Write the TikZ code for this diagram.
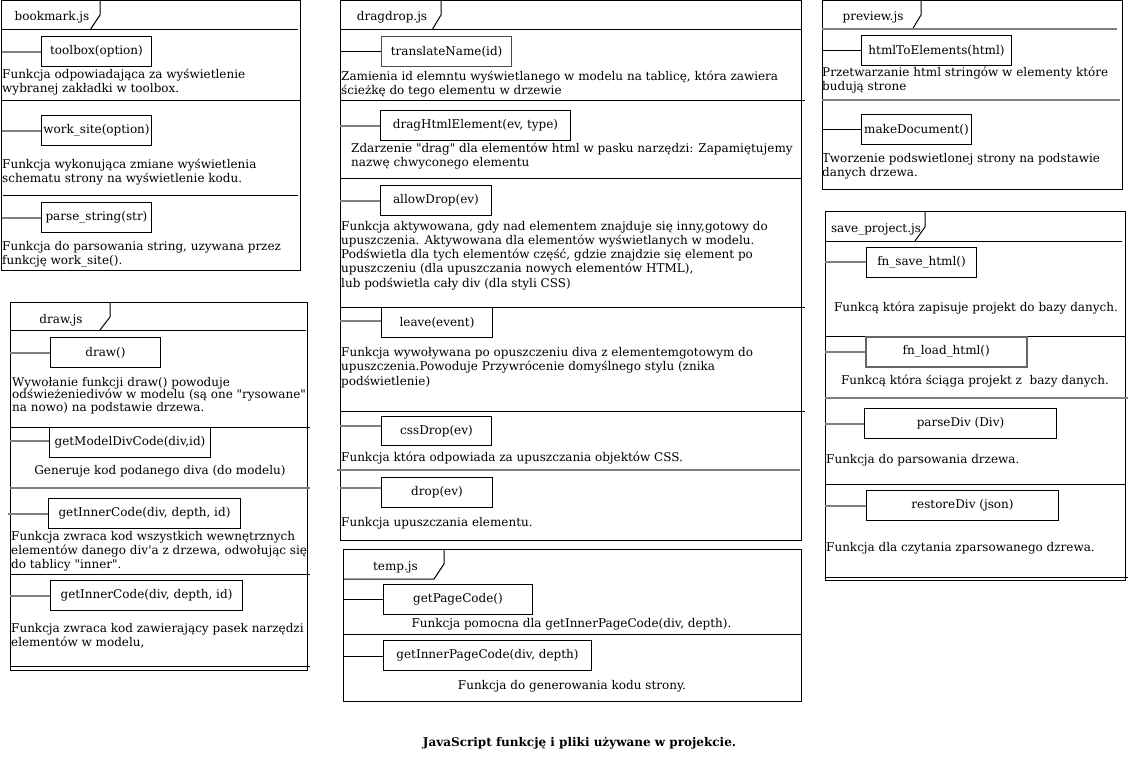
\documentclass[tikz,border=0pt]{standalone}
\usepackage{fontspec}
\setmainfont{DejaVu Serif}[Ligatures=TeXOff]
\newcommand\dfont{\fontsize{12}{13.5}\selectfont}
\begin{document}
\begin{tikzpicture}[x=1pt,y=-1pt,
  pkg/.style={draw=black, line width=1pt},
  sepl/.style={draw=black, line width=1pt},
  gsep/.style={draw=black!50, line width=2pt},
  fn/.style={draw=black, line width=1pt, anchor=north west, inner sep=0pt, minimum height=30pt, font=\dfont, align=center},
  conn/.style={draw=black!50, line width=2pt},
  bconn/.style={draw=black, line width=1pt},
  desc/.style={anchor=base west, align=left, inner sep=0pt, font=\dfont},
  cdesc/.style={anchor=base, align=center, inner sep=0pt, font=\dfont},
  tabl/.style={anchor=base, inner sep=0pt, font=\dfont},
  capt/.style={anchor=base, inner sep=0pt, font=\dfont\bfseries}]
\useasboundingbox[fill=white] (0,0) rectangle (1128,757);

% ---------------- bookmark.js
\draw[pkg] (1,1) rectangle (300,270);
\draw[pkg] (100,1) -- (100,15) -- (90,30);
\draw[sepl] (1,30) -- (298,30);
\node[tabl] (bmt) at (52,21) {bookmark.js};
\node[fn, minimum width=110pt] (tb) at (41,36) {toolbox(option)};
\coordinate (tbc) at (2,52);
\draw[conn] (tbc) -- (tb.west |- tbc);
\node[desc, font=\fontsize{12}{14}\selectfont] (tbd) at (2,93) {Funkcja odpowiadająca za wyświetlenie\\wybranej zakładki w toolbox.};
\draw[sepl] (1,101) -- (300,101);
\node[fn, minimum width=110pt] (ws) at (41,115) {work\_site(option)};
\coordinate (wsc) at (2,131);
\draw[conn] (wsc) -- (ws.west |- wsc);
\node[desc] (wsd) at (2,182.5) {Funkcja wykonująca zmiane wyświetlenia\\schematu strony na wyświetlenie kodu.};
\draw[sepl] (3,196) -- (298,196);
\node[fn, minimum width=110pt] (ps) at (41,202) {parse\_string(str)};
\coordinate (psc) at (2,218);
\draw[conn] (psc) -- (ps.west |- psc);
\node[desc] (psd) at (2,264.5) {Funkcja do parsowania string, uzywana przez\\funkcję work\_site().};

% ---------------- draw.js
\draw[pkg] (10,302) rectangle (307,670);
\draw[pkg] (110,302) -- (110,317) -- (100,330);
\draw[sepl] (10,330) -- (306,330);
\node[tabl] (dwt) at (61,323) {draw.js};
\node[fn, minimum width=110pt] (dw) at (50,337) {draw()};
\coordinate (dwc) at (10,353);
\draw[conn] (dwc) -- (dw.west |- dwc);
\node[desc, font=\fontsize{12}{12.7}\selectfont] (dwd) at (12,411.4) {Wywołanie funkcji draw() powoduje\\odświeżeniedivów w modelu (są one "rysowane"\\na nowo) na podstawie drzewa.};
\draw[sepl] (10,427) -- (310,427);
\node[fn, minimum width=161pt] (gm) at (49,427) {getModelDivCode(div,id)};
\coordinate (gmc) at (10,441);
\draw[conn] (gmc) -- (gm.west |- gmc);
\node[cdesc] (gmd) at (160,474) {Generuje kod podanego diva (do modelu)};
\draw[gsep] (10,488) -- (310,488);
\node[fn, minimum width=192pt] (gi) at (48,498) {getInnerCode(div, depth, id)};
\coordinate (gic) at (8,514);
\draw[conn] (gic) -- (gi.west |- gic);
\node[desc, font=\fontsize{12}{14}\selectfont] (gid) at (11,568) {Funkcja zwraca kod wszystkich wewnętrznych\\elementów danego div'a z drzewa, odwołując się\\do tablicy "inner".};
\draw[sepl] (10,574) -- (310,574);
\node[fn, minimum width=192pt] (gj) at (50,580) {getInnerCode(div, depth, id)};
\coordinate (gjc) at (10,596);
\draw[conn] (gjc) -- (gj.west |- gjc);
\node[desc, font=\fontsize{12}{14}\selectfont] (gjd) at (11,646) {Funkcja zwraca kod zawierający pasek narzędzi\\elementów w modelu,};
\draw[sepl] (10,666) -- (310,666);

% ---------------- dragdrop.js
\draw[pkg] (340,1) rectangle (801,540);
\draw[pkg] (441,1) -- (441,15) -- (432,30);
\draw[sepl] (340,30) -- (801,30);
\node[tabl] (ddt) at (392,21) {dragdrop.js};
\node[fn, minimum width=130pt, draw=black!70, line width=1.3pt] (tn) at (381,36) {translateName(id)};
\coordinate (tnc) at (340,52);
\draw[bconn] (tnc) -- (tn.west |- tnc);
\node[desc, font=\fontsize{12}{14}\selectfont] (tnd) at (341,95) {Zamienia id elemntu wyświetlanego w modelu na tablicę, która zawiera\\ścieżkę do tego elementu w drzewie};
\draw[sepl] (340,101) -- (805,101);
\node[fn, minimum width=190pt] (dh) at (380,110) {dragHtmlElement(ev, type)};
\coordinate (dhc) at (340,126);
\draw[conn] (dhc) -- (dh.west |- dhc);
\node[desc, font=\fontsize{12}{14}\selectfont] (dhd) at (351,167) {Zdarzenie "drag" dla elementów html w pasku narzędzi: Zapamiętujemy\\nazwę chwyconego elementu};
\draw[sepl] (340,179) -- (801,179);
\node[fn, minimum width=111pt] (ad) at (380,185) {allowDrop(ev)};
\coordinate (adc) at (340,201);
\draw[conn] (adc) -- (ad.west |- adc);
\node[desc, font=\fontsize{12}{14.25}\selectfont] (add) at (341,287) {Funkcja aktywowana, gdy nad elementem znajduje się inny,gotowy do\\upuszczenia. Aktywowana dla elementów wyświetlanych w modelu.\\Podświetla dla tych elementów część, gdzie znajdzie się element po\\upuszczeniu (dla upuszczania nowych elementów HTML),\\lub podświetla cały div (dla styli CSS)};
\draw[sepl] (340,307) -- (805,307);
\node[fn, minimum width=111pt] (lv) at (381,307) {leave(event)};
\coordinate (lvc) at (340,321);
\draw[conn] (lvc) -- (lv.west |- lvc);
\node[desc, font=\fontsize{12}{14.5}\selectfont] (lvd) at (341,385) {Funkcja wywoływana po opuszczeniu diva z elementemgotowym do\\upuszczenia.Powoduje Przywrócenie domyślnego stylu (znika\\podświetlenie)};
\draw[sepl] (340,411) -- (805,411);
\node[fn, minimum width=110pt, minimum height=29pt] (cd) at (381,416) {cssDrop(ev)};
\coordinate (cdc) at (340,426);
\draw[conn] (cdc) -- (cd.west |- cdc);
\node[desc] (cdd) at (341,461) {Funkcja która odpowiada za upuszczania objektów CSS.};
\draw[gsep] (337,470) -- (800,470);
\node[fn, minimum width=111pt] (dr) at (381,477) {drop(ev)};
\coordinate (drc) at (340,488);
\draw[conn] (drc) -- (dr.west |- drc);
\node[desc] (drd) at (341,526) {Funkcja upuszczania elementu.};

% ---------------- temp.js
\draw[pkg] (343,549) rectangle (801,701);
\draw[pkg] (444,549) -- (444,564) -- (434,579) -- (343,579);
\node[tabl] (tpt) at (395.5,570) {temp.js};
\node[fn, minimum width=149pt] (gp) at (383,584) {getPageCode()};
\coordinate (gpc) at (343,599);
\draw[bconn] (gpc) -- (gp.west |- gpc);
\node[cdesc] (gpd) at (571.5,627) {Funkcja pomocna dla getInnerPageCode(div, depth).};
\draw[sepl] (343,634) -- (801,634);
\node[fn, minimum width=208pt] (gq) at (383,640) {getInnerPageCode(div, depth)};
\coordinate (gqc) at (343,656);
\draw[bconn] (gqc) -- (gq.west |- gqc);
\node[cdesc] (gqd) at (572,689) {Funkcja do generowania kodu strony.};

\node[capt] (cap) at (579.5,746) {JavaScript funkcję i pliki używane w projekcie.};

% ---------------- preview.js
\draw[pkg] (822,1) rectangle (1122,190);
\draw[pkg] (921,1) -- (921,15) -- (912,30);
\draw[gsep] (822,29) -- (1117,29);
\node[tabl] (pvt) at (873,21) {preview.js};
\node[fn, minimum width=150pt] (he) at (861,35) {htmlToElements(html)};
\coordinate (hec) at (822,51);
\draw[bconn] (hec) -- (he.west |- hec);
\node[desc, font=\fontsize{12}{14}\selectfont] (hed) at (822,91) {Przetwarzanie html stringów w elementy które\\budują strone};
\draw[gsep] (822,100) -- (1120,100);
\node[fn, minimum width=110pt] (md) at (861,114) {makeDocument()};
\coordinate (mdc) at (822,130);
\draw[bconn] (mdc) -- (md.west |- mdc);
\node[desc, font=\fontsize{12}{14}\selectfont] (mdd) at (822,177) {Tworzenie podswietlonej strony na podstawie\\danych drzewa.};

% ---------------- save_project.js
\draw[pkg] (825,212) rectangle (1125,580);
\draw[pkg] (925,212) -- (925,227) -- (915,241);
\draw[sepl] (825,241) -- (1122,241);
\node[tabl] (spt) at (876,233) {save\_project.js};
\node[fn, minimum width=110pt] (fs) at (866,247) {fn\_save\_html()};
\coordinate (fsc) at (825,262);
\draw[conn] (fsc) -- (fs.west |- fsc);
\node[cdesc] (fsd) at (976,311) {Funkcą która zapisuje projekt do bazy danych.};
\draw[sepl] (825,336) -- (1125,336);
\node[fn, minimum width=161pt, draw=black!60, line width=1.5pt] (fl) at (865,336) {fn\_load\_html()};
\coordinate (flc) at (825,352);
\draw[conn] (flc) -- (fl.west |- flc);
\node[cdesc] (fld) at (975,384) {Funkcą która ściąga projekt z\ \ bazy danych.};
\draw[gsep] (825,398) -- (1128,398);
\node[fn, minimum width=192pt] (pd) at (864,408) {parseDiv (Div)};
\coordinate (pdc) at (825,424);
\draw[conn] (pdc) -- (pd.west |- pdc);
\node[desc] (pdd) at (826,463) {Funkcja do parsowania drzewa.};
\draw[sepl] (825,484) -- (1125,484);
\node[fn, minimum width=192pt] (rd) at (866,490) {restoreDiv (json)};
\coordinate (rdc) at (825,506);
\draw[conn] (rdc) -- (rd.west |- rdc);
\node[desc] (rdd) at (826,551) {Funkcja dla czytania zparsowanego dzrewa.};
\draw[sepl] (825,577) -- (1128,577);
\end{tikzpicture}
\end{document}
